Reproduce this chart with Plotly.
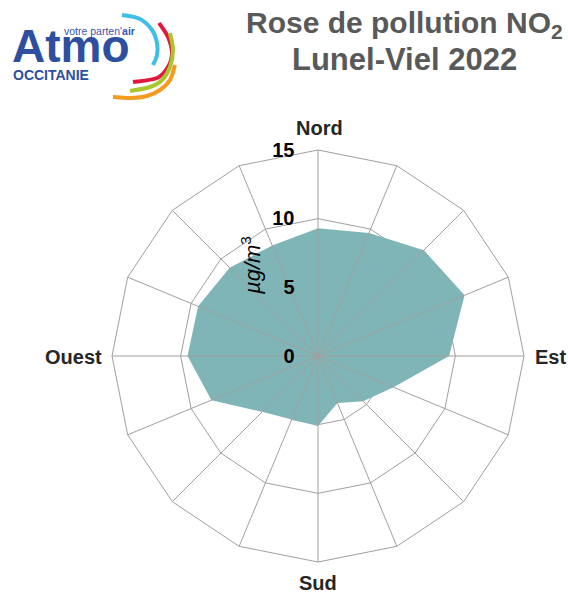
import plotly.graph_objects as go

W, H = 568, 594

directions = ["N", "NNE", "NE", "ENE", "E", "ESE", "SE", "SSE",
              "S", "SSW", "SW", "WSW", "W", "WNW", "NW", "NNW"]
cardinal_labels = {"N": "Nord", "E": "Est", "S": "Sud", "W": "Ouest"}
no2_values = [9.3, 9.7, 10.9, 11.55, 9.55, 5.95, 4.65, 3.7,
              5.1, 5.0, 5.75, 8.4, 9.5, 9.45, 9.1, 8.7]
radial_ticks = [0, 5, 10, 15]
radial_max = 15

title_line1 = "Rose de pollution NO<sub>2</sub>"
title_line2 = "Lunel-Viel 2022"
unit_label = "<i>µg/m</i><sup>3</sup>"

FILL = "#80b5b7"
GRID = "#a0a0a0"
SANS = "Liberation Sans, Arial, sans-serif"


def px(x, y):
    return x / W, 1 - y / H


def smooth_path(points):
    pts = [px(x, y) for x, y in points]
    d = "M %.5f,%.5f" % pts[0]
    for i in range(len(pts) - 1):
        p0 = pts[i - 1] if i > 0 else pts[i]
        p1 = pts[i]
        p2 = pts[i + 1]
        p3 = pts[i + 2] if i + 2 < len(pts) else pts[i + 1]
        c1 = (p1[0] + (p2[0] - p0[0]) / 6, p1[1] + (p2[1] - p0[1]) / 6)
        c2 = (p2[0] - (p3[0] - p1[0]) / 6, p2[1] - (p3[1] - p1[1]) / 6)
        d += " C %.5f,%.5f %.5f,%.5f %.5f,%.5f" % (c1 + c2 + p2)
    return d


fig = go.Figure()

fig.add_trace(go.Scatterpolar(
    r=no2_values + no2_values[:1],
    theta=directions + directions[:1],
    mode="lines",
    fill="toself",
    fillcolor=FILL,
    line=dict(width=0, color=FILL),
    hoverinfo="skip",
    showlegend=False,
))

spoke_r, spoke_t = [], []
for d in directions:
    spoke_r += [0, radial_max, None]
    spoke_t += [d, d, None]
fig.add_trace(go.Scatterpolar(
    r=spoke_r, theta=spoke_t, mode="lines",
    line=dict(color=GRID, width=1),
    hoverinfo="skip", showlegend=False, connectgaps=False,
))

x0, y1 = px(112, 150)
x1, y0 = px(524, 562)

fig.update_layout(
    width=W, height=H,
    margin=dict(l=0, r=0, t=0, b=0),
    paper_bgcolor="white",
    plot_bgcolor="white",
    showlegend=False,
    polar=dict(
        domain=dict(x=[x0, x1], y=[y0, y1]),
        bgcolor="white",
        gridshape="linear",
        radialaxis=dict(
            range=[0, radial_max],
            tickmode="array",
            tickvals=radial_ticks,
            angle=90,
            tickangle=90,
            side="counterclockwise",
            showline=False,
            ticks="outside",
            ticklen=16,
            tickcolor="rgba(0,0,0,0)",
            gridcolor=GRID,
            gridwidth=1,
            tickfont=dict(family=SANS, size=20, color="#000000", weight="bold"),
        ),
        angularaxis=dict(
            type="category",
            categoryarray=directions,
            rotation=90,
            direction="clockwise",
            showgrid=False,
            showline=True,
            linecolor=GRID,
            linewidth=1,
            showticklabels=False,
            ticks="",
        ),
    ),
)

card_pos = {"N": (319, 128, "center"), "E": (533, 357, "left"),
            "S": (318, 583, "center"), "W": (104, 357, "right")}

annotations = []
for d in directions:
    if d in cardinal_labels:
        x, y, anc = card_pos[d]
        ax, ay = px(x, y)
        annotations.append(dict(
            text=cardinal_labels[d], x=ax, y=ay, xref="paper", yref="paper",
            xanchor=anc, yanchor="middle", showarrow=False,
            font=dict(family=SANS, size=20, color="#262626", weight="bold")))

tx, ty = px(404, 24)
annotations.append(dict(text=title_line1, x=tx, y=ty, xref="paper", yref="paper",
                        xanchor="center", yanchor="middle", showarrow=False,
                        font=dict(family=SANS, size=30, color="#595959", weight="bold")))
tx, ty = px(404, 59)
annotations.append(dict(text=title_line2, x=tx, y=ty, xref="paper", yref="paper",
                        xanchor="center", yanchor="middle", showarrow=False,
                        font=dict(family=SANS, size=31, color="#595959", weight="bold")))
ux, uy = px(251, 266)
annotations.append(dict(text=unit_label, x=ux, y=uy, xref="paper", yref="paper",
                        xanchor="center", yanchor="middle", showarrow=False, textangle=-90,
                        font=dict(family=SANS, size=22, color="#000000")))

lx, ly = px(10, 46)
annotations.append(dict(text="Atmo", x=lx, y=ly, xref="paper", yref="paper",
                        xanchor="left", yanchor="middle", showarrow=False,
                        font=dict(family=SANS, size=46, color="#2e4f9f", weight="bold")))
lx, ly = px(62, 31)
annotations.append(dict(text="votre parten'<b>air</b>", x=lx, y=ly, xref="paper", yref="paper",
                        xanchor="left", yanchor="middle", showarrow=False,
                        font=dict(family=SANS, size=10.5, color="#3b57a8")))
lx, ly = px(11, 75)
annotations.append(dict(text="OCCITANIE", x=lx, y=ly, xref="paper", yref="paper",
                        xanchor="left", yanchor="middle", showarrow=False,
                        font=dict(family=SANS, size=14, color="#2e4f9f", weight="bold")))
fig.update_layout(annotations=annotations)

arcs = [
    ("#3dbfe8", [(122, 15), (140, 19), (152, 30), (157, 43), (157, 55), (153, 65)]),
    ("#e2183f", [(159, 23), (168, 37), (172, 53), (168, 67), (157, 78), (133, 82)]),
    ("#a9c62c", [(170, 33), (173, 50), (170, 67), (162, 80), (150, 87), (130, 91)]),
    ("#f39a1f", [(175, 65), (170, 80), (160, 90), (147, 96), (130, 98), (113, 97)]),
]
shapes = []
for color, pts in arcs:
    shapes.append(dict(type="path", xref="paper", yref="paper", path=smooth_path(pts),
                       line=dict(color=color, width=4)))
fig.update_layout(shapes=shapes)

fig.write_html(
    "out.html",
    config={"displayModeBar": False},
    post_script="document.body.style.margin='0';document.body.style.overflow='hidden';",
)
